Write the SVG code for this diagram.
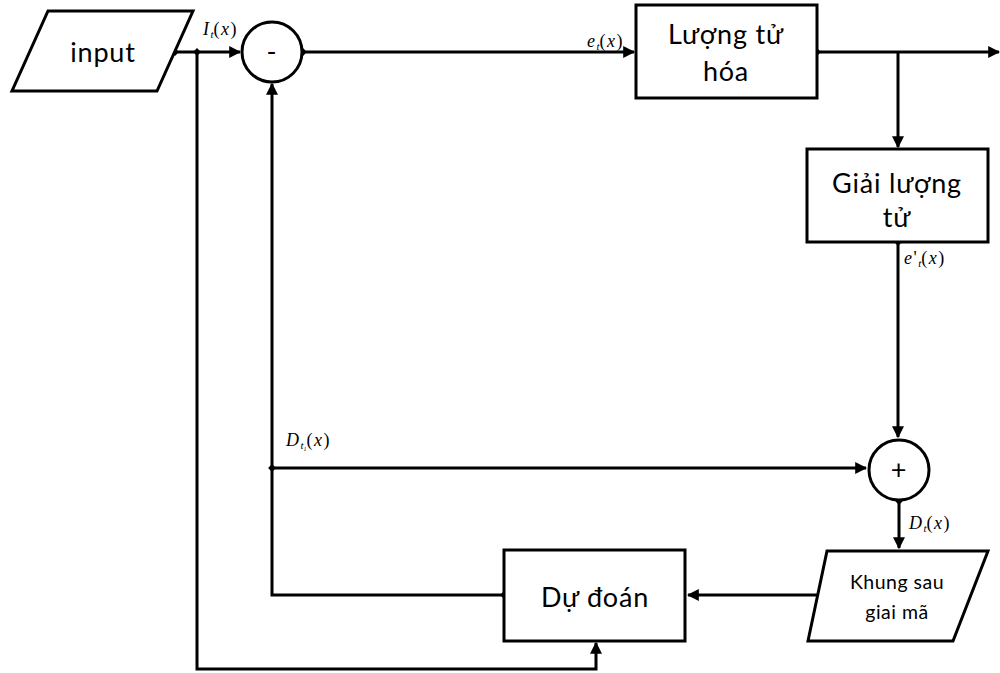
<svg xmlns="http://www.w3.org/2000/svg" width="1000" height="673" viewBox="0 0 1000 673">
<style>
.s{fill:#fff;stroke:#000;stroke-width:3}
.t{font-family:Lato,"Liberation Sans",sans-serif;fill:#000;text-anchor:middle;font-size:27px;letter-spacing:0.8px}
.k{font-size:19.5px;letter-spacing:0.5px}
.l{fill:none;stroke:#000;stroke-width:3}
.m{font-family:"Liberation Serif",serif;font-style:italic;font-size:18px;fill:#000;letter-spacing:1.5px}
.p{font-style:normal}
.sb{font-size:11px;letter-spacing:0}
</style>
<defs>
<marker id="a" viewBox="0 0 10 10" refX="9" refY="5" markerWidth="4" markerHeight="4" orient="auto" markerUnits="strokeWidth"><path d="M0,0L10,5L0,10z" fill="#000"/></marker>
<marker id="d" viewBox="0 0 10 10" refX="5" refY="5" markerWidth="2.6" markerHeight="2.6" orient="auto" markerUnits="strokeWidth"><path d="M5,0L10,5L5,10L0,5z" fill="#000"/></marker>
</defs>
<g id="connectors">
<path class="l" d="M175,52H240" marker-start="url(#d)" marker-end="url(#a)"/>
<path class="l" d="M197,52V669H596V643" marker-start="url(#d)" marker-end="url(#a)"/>
<path class="l" d="M303,52H634" marker-start="url(#d)" marker-end="url(#a)"/>
<path class="l" d="M817,52H999" marker-start="url(#d)" marker-end="url(#a)"/>
<path class="l" d="M898,52V147" marker-end="url(#a)"/>
<path class="l" d="M898,242V437" marker-start="url(#d)" marker-end="url(#a)"/>
<path class="l" d="M899,501V548" marker-start="url(#d)" marker-end="url(#a)"/>
<path class="l" d="M827,595H688" marker-start="url(#d)" marker-end="url(#a)"/>
<path class="l" d="M504,595H272V84" marker-start="url(#d)" marker-end="url(#a)"/>
<path class="l" d="M272,468H866" marker-start="url(#d)" marker-end="url(#a)"/>
<text class="m" x="203" y="35">I<tspan class="sb" dy="3">t</tspan><tspan class="p" dy="-3">(</tspan>x<tspan class="p">)</tspan></text>
<text class="m" x="587" y="47">e<tspan class="sb" dy="3">t</tspan><tspan class="p" dy="-3">(</tspan>x<tspan class="p">)</tspan></text>
<text class="m" x="904" y="264">e<tspan class="p">'</tspan><tspan class="sb" dy="3">t</tspan><tspan class="p" dy="-3">(</tspan>x<tspan class="p">)</tspan></text>
<text class="m" x="286" y="446">D<tspan class="sb" dy="3">t</tspan><tspan class="sb" style="font-size:6px" dy="2">1</tspan><tspan class="p" dy="-5">(</tspan>x<tspan class="p">)</tspan></text>
<text class="m" x="909" y="529">D<tspan class="sb" dy="3">t</tspan><tspan class="p" dy="-3">(</tspan>x<tspan class="p">)</tspan></text>
</g>
<g id="input">
<path class="s" d="M48,11H193L157,91H12z"/>
<text class="t" x="103" y="62">input</text>
</g>
<g id="minus">
<circle class="s" cx="272" cy="52" r="30"/>
<text class="t" x="272" y="61" font-size="24">-</text>
</g>
<g id="luongtuhoa">
<rect class="s" x="636" y="5" width="181" height="93"/>
<text class="t" x="726" y="44">Lượng tử</text>
<text class="t" x="726" y="81">hóa</text>
</g>
<g id="giailuongtu">
<rect class="s" x="807" y="149" width="181" height="93"/>
<text class="t" x="897" y="193">Giải lượng</text>
<text class="t" x="897" y="227">tử</text>
</g>
<g id="plus">
<circle class="s" cx="899" cy="470" r="30"/>
<text class="t" x="899" y="479" font-size="24">+</text>
</g>
<g id="khung">
<path class="s" d="M827,551H988L953,641H808z"/>
<text class="t k" x="897" y="589">Khung sau</text>
<text class="t k" x="897" y="619">giai mã</text>
</g>
<g id="dudoan">
<rect class="s" x="504" y="550" width="181" height="91"/>
<text class="t" x="595" y="607">Dự đoán</text>
</g>
</svg>
